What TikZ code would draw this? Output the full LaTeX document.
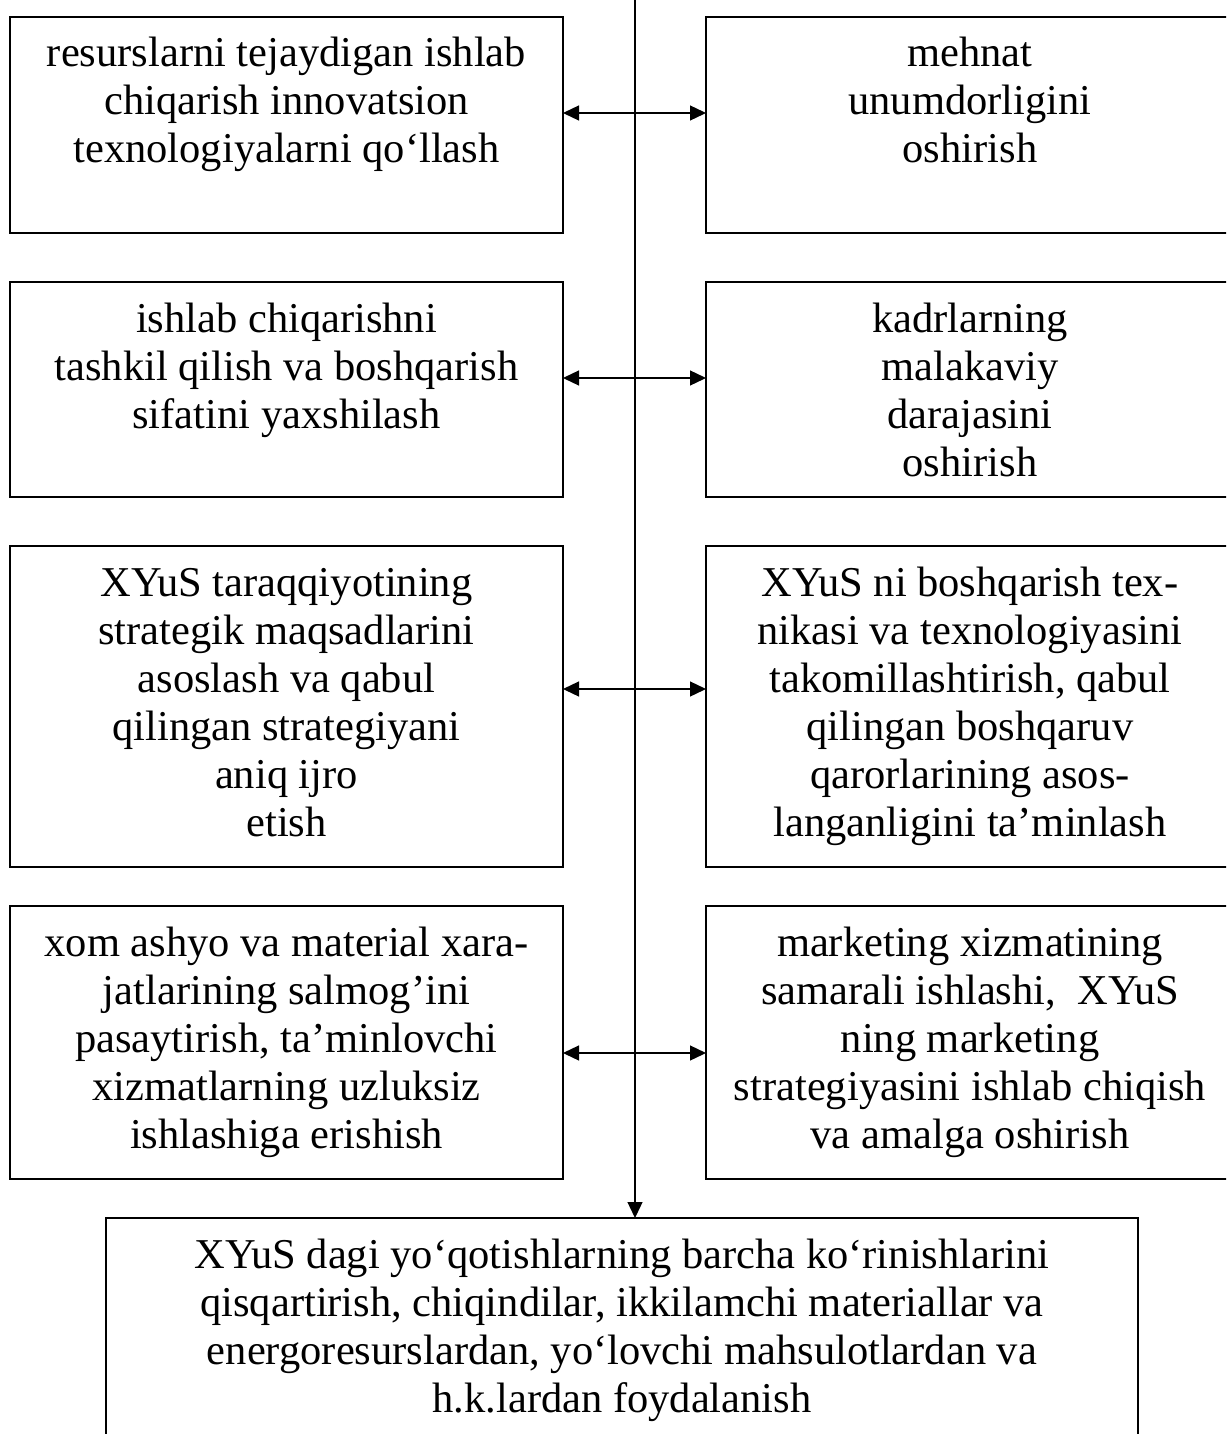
\documentclass[tikz,border=0pt]{standalone}
\usepackage{fontspec}
\setmainfont{Liberation Serif}
\usetikzlibrary{arrows.meta}
\newcommand{\boxtext}[3]{\parbox[c][#2][t]{#1}{\centering\rule{0pt}{50pt}#3\par}}
\begin{document}
\begin{tikzpicture}[x=1pt,y=-1pt,
  box/.style={draw, line width=1.8pt, inner sep=0pt, outer sep=0pt, anchor=north west, font=\fontsize{42.5}{48}\selectfont},
  link/.style={line width=1.3pt, {Triangle[length=16pt,width=15pt]}-{Triangle[length=16pt,width=15pt]}},
  down/.style={line width=1.3pt, -{Triangle[length=16pt,width=15pt]}}]
\useasboundingbox (0,0) rectangle (1226,1434);
\clip (0,0) rectangle (1226,1434);
% left column
\node[box] (L1) at (10,17) {\boxtext{553pt}{216pt}{resurslarni tejaydigan ishlab\\ chiqarish innovatsion\\ texnologiyalarni qo‘llash}};
\node[box] (L2) at (10,282) {\boxtext{553pt}{215pt}{ishlab chiqarishni\\ tashkil qilish va boshqarish\\ sifatini yaxshilash}};
\node[box] (L3) at (10,546) {\boxtext{553pt}{321pt}{XYuS taraqqiyotining\\ strategik maqsadlarini\\ asoslash va qabul\\ qilingan strategiyani\\ aniq ijro\\ etish}};
\node[box] (L4) at (10,906) {\boxtext{553pt}{273pt}{xom ashyo va material xara-\\ jatlarining salmog’ini\\ pasaytirish, ta’minlovchi\\ xizmatlarning uzluksiz\\ ishlashiga erishish}};
% right column
\node[box] (R1) at (706,17) {\boxtext{528pt}{216pt}{mehnat\\ unumdorligini\\ oshirish}};
\node[box] (R2) at (706,282) {\boxtext{528pt}{215pt}{kadrlarning\\ malakaviy\\ darajasini\\ oshirish}};
\node[box] (R3) at (706,546) {\boxtext{528pt}{321pt}{XYuS ni boshqarish tex-\\ nikasi va texnologiyasini\\ takomillashtirish, qabul\\ qilingan boshqaruv\\ qarorlarining asos-\\ langanligini ta’minlash}};
\node[box] (R4) at (706,906) {\boxtext{528pt}{273pt}{marketing xizmatining\\ samarali ishlashi,~~XYuS\\ ning marketing\\ strategiyasini ishlab chiqish\\ va amalga oshirish}};
% bottom
\node[box] (B) at (106,1218) {\boxtext{1032pt}{240pt}{XYuS dagi yo‘qotishlarning barcha ko‘rinishlarini\\ qisqartirish, chiqindilar, ikkilamchi materiallar va\\ energoresurslardan, yo‘lovchi mahsulotlardan va\\ h.k.lardan foydalanish}};
% connectors
\coordinate (top) at (635,-5);
\draw[down] (top) -- (top |- B.north);
\draw[link] (L1.east |- 0,113) -- (R1.west |- 0,113);
\draw[link] (L2.east |- 0,378) -- (R2.west |- 0,378);
\draw[link] (L3.east |- 0,689) -- (R3.west |- 0,689);
\draw[link] (L4.east |- 0,1053) -- (R4.west |- 0,1053);
\end{tikzpicture}
\end{document}
